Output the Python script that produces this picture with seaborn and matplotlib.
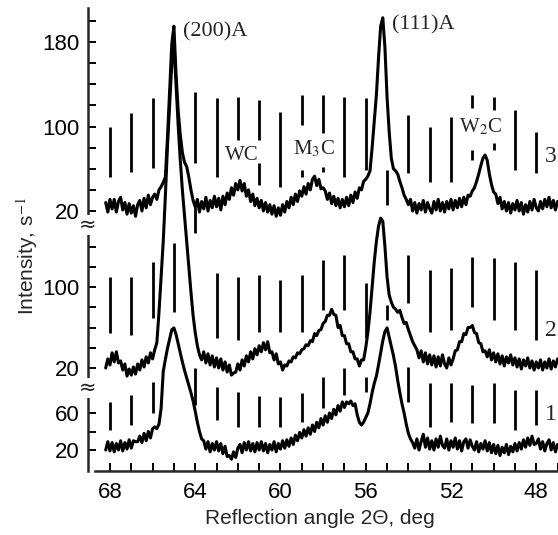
import numpy as np
import pandas as pd
import seaborn as sns
import matplotlib.pyplot as plt
import matplotlib.transforms as mtransforms

# 2Θ grid in degrees, 68.2 down to 47.0 in 0.1 steps
angle = np.arange(682, 469, -1) / 10

# intensities (counts/s), one row per degree
intensity_3 = [28, 19, 31,
               22, 31, 19, 29, 33, 21, 28, 17, 27, 18,
               25, 15, 26, 30, 20, 32, 23, 35, 26, 33,
               36, 31, 40, 43, 47, 52, 90, 135, 178, 195,
               150, 115, 92, 75, 66, 62, 52, 40, 30, 24,
               31, 19, 29, 22, 33, 20, 30, 23, 34, 24,
               32, 21, 34, 26, 37, 31, 42, 35, 46, 40,
               49, 39, 46, 34, 40, 29, 36, 25, 32, 23,
               30, 20, 28, 19, 26, 17, 25, 15, 23, 16,
               26, 19, 29, 23, 33, 26, 36, 29, 39, 34,
               43, 36, 46, 40, 50, 53, 44, 50, 41, 42,
               39, 31, 37, 27, 34, 25, 32, 23, 31, 24,
               33, 25, 35, 28, 38, 32, 42, 40, 48, 50,
               53, 58, 80, 105, 130, 165, 195, 203, 175, 128,
               95, 70, 60, 58, 55, 48, 42, 35, 31, 26,
               31, 20, 28, 18, 27, 21, 30, 19, 28, 22,
               18, 29, 21, 31, 20, 28, 19, 29, 22, 31,
               21, 30, 23, 32, 24, 33, 26, 35, 34, 39,
               42, 48, 55, 63, 70, 73, 68, 55, 45, 38,
               36, 27, 33, 22, 29, 20, 28, 18, 27, 21,
               30, 20, 28, 17, 26, 19, 29, 21, 31, 23,
               20, 29, 22, 31, 24, 33, 23, 30, 21, 29]

intensity_2 = [20, 29, 23,
               35, 26, 36, 25, 27, 18, 24, 12, 19, 13,
               21, 14, 24, 18, 28, 21, 31, 25, 35, 29,
               38, 45, 75, 110, 145, 190, 240, 280, 320, 340,
               300, 260, 225, 195, 170, 145, 120, 95, 72, 55,
               42, 33, 28, 36, 25, 34, 23, 32, 21, 30,
               20, 29, 18, 26, 16, 23, 13, 15, 16, 24,
               18, 28, 22, 32, 26, 36, 29, 39, 33, 42,
               36, 45, 38, 46, 35, 36, 28, 34, 24, 26,
               18, 23, 22, 27, 26, 31, 30, 35, 34, 38,
               39, 43, 42, 47, 46, 54, 52, 57, 58, 64,
               66, 72, 72, 78, 73, 72, 60, 62, 52, 52,
               44, 44, 36, 36, 29, 29, 22, 28, 28, 40,
               55, 75, 100, 125, 145, 160, 168, 165, 140, 110,
               92, 85, 80, 78, 75, 77, 70, 64, 65, 58,
               52, 46, 42, 38, 30, 37, 26, 35, 24, 33,
               23, 32, 21, 31, 22, 33, 24, 20, 30, 23,
               29, 37, 38, 46, 46, 54, 53, 60, 60, 62,
               55, 54, 45, 44, 36, 37, 31, 38, 28, 35,
               26, 34, 24, 32, 22, 31, 25, 33, 23, 30,
               21, 29, 19, 28, 22, 30, 20, 27, 18, 26,
               20, 28, 18, 26, 20, 29, 19, 27, 21, 29]

intensity_1 = [20, 29, 19,
               28, 18, 27, 20, 30, 19, 28, 21, 31, 22,
               30, 29, 29, 35, 28, 38, 30, 40, 33, 43,
               45, 43, 48, 65, 105, 118, 130, 140, 150, 152,
               145, 135, 125, 115, 106, 98, 90, 82, 73, 62,
               50, 40, 32, 30, 21, 29, 18, 27, 20, 29,
               19, 27, 16, 24, 13, 14, 10, 18, 12, 22,
               26, 17, 28, 20, 29, 19, 27, 18, 28, 20,
               29, 19, 27, 17, 26, 20, 29, 18, 27, 21,
               30, 22, 31, 24, 33, 26, 36, 30, 39, 33,
               42, 35, 44, 37, 47, 40, 50, 44, 54, 47,
               57, 50, 60, 54, 64, 58, 68, 62, 72, 66,
               72, 70, 73, 68, 70, 58, 50, 47, 50, 55,
               60, 70, 82, 92, 100, 112, 125, 138, 148, 152,
               142, 132, 122, 110, 95, 82, 70, 60, 48, 38,
               32, 28, 22, 32, 20, 29, 37, 23, 33, 21,
               30, 20, 32, 23, 35, 25, 22, 32, 20, 30,
               23, 33, 21, 30, 19, 29, 32, 22, 31, 24,
               20, 29, 18, 27, 21, 30, 19, 28, 17, 26,
               16, 25, 14, 23, 17, 26, 15, 24, 18, 27,
               19, 28, 21, 31, 23, 33, 25, 35, 26, 27,
               32, 21, 29, 19, 27, 31, 20, 28, 18, 26]

# reference line markers: (angle, low, high) in each pattern's intensity units
sticks_3 = [(68, 52, 100), (67, 57, 113), (66, 61, 127), (64, 65, 133), (63, 52, 127),
            (62, 87, 128), (61, 87, 125), (61, 45, 65), (60, 43, 114), (59, 101, 130),
            (59, 52, 59), (58, 94, 130), (58, 57, 62), (57, 52, 128), (56, 59, 127),
            (55, 26, 59), (54, 56, 111), (53, 47, 100), (52, 47, 109), (51, 118, 130),
            (51, 68, 78), (50, 116, 128), (50, 78, 84), (49, 59, 116), (48, 56, 95)]
sticks_2 = [(68, 55, 110), (67, 53, 110), (66, 69, 125), (65, 75, 143), (64, 153, 184),
            (63, 50, 114), (62, 48, 110), (61, 56, 112), (60, 56, 107), (59, 56, 112),
            (58, 77, 127), (57, 77, 132), (56, 50, 104), (55, 67, 82), (54, 84, 132),
            (53, 56, 117), (52, 58, 119), (51, 80, 130), (50, 67, 129), (49, 58, 125),
            (48, 48, 117)]
sticks_1 = [(68, 42, 72), (67, 47, 79), (66, 60, 94), (64, 69, 109), (63, 52, 88),
            (62, 45, 83), (61, 45, 78), (60, 45, 77), (59, 50, 82), (58, 65, 99),
            (57, 79, 109), (56, 83, 99), (54, 72, 110), (53, 45, 92), (52, 50, 92),
            (51, 49, 90), (50, 49, 92), (49, 42, 85), (48, 47, 85)]

yticks_1 = [20, 40, 60, 80]
yticks_2 = [20, 40, 60, 80, 100, 120, 140]
yticks_3 = [20, 40, 60, 80, 100, 120, 140, 160, 180, 200]
ylabels_1 = [20, 60]
ylabels_2 = [20, 100]
ylabels_3 = [20, 100, 180]

xticks = list(range(47, 69))
xlabels = [68, 64, 60, 56, 52, 48]

# where each pattern sits on the broken axis: base + (I - 20) * scale
placement = {'1': (21, 0.925), '2': (103, 1.0125), '3': (260, 1.056)}


def place(name, values):
    base, k = placement[name]
    return base + (np.asarray(values, dtype=float) - 20) * k


sns.set_style('ticks')
plt.rcParams['font.family'] = ['Liberation Sans', 'DejaVu Sans']
plt.rcParams['mathtext.fontset'] = 'stix'

frames = []
for name, vals in [('1', intensity_1), ('2', intensity_2), ('3', intensity_3)]:
    frames.append(pd.DataFrame({'angle': angle, 'y': place(name, vals), 'sample': name}))
df = pd.concat(frames, ignore_index=True)

fig = plt.figure(figsize=(5.58, 5.35), dpi=100)
ax = fig.add_axes([88 / 558, 64 / 535, 470 / 558, 463 / 535])

sns.lineplot(data=df, x='angle', y='y', hue='sample', palette=['black'] * 3,
             estimator=None, legend=False, lw=2.2, ax=ax)

for name, sticks in [('1', sticks_1), ('2', sticks_2), ('3', sticks_3)]:
    pos = [s[0] for s in sticks]
    lo = place(name, [s[1] for s in sticks])
    hi = place(name, [s[2] for s in sticks])
    ax.vlines(pos, lo, hi, color='black', lw=2.0)

# y ticks for the three stacked scales
ypos, ylab = [], []
for name, ticks, labelled in [('1', yticks_1, ylabels_1), ('2', yticks_2, ylabels_2),
                              ('3', yticks_3, ylabels_3)]:
    ypos += list(place(name, ticks))
    ylab += [str(t) if t in labelled else '' for t in ticks]
ax.set_yticks(ypos)
ax.set_yticklabels(ylab)
ax.set_xticks(xticks)
ax.set_xticklabels([str(t) if t in xlabels else '' for t in xticks])

ax.set_xlim(69.03, 46.98)
ax.set_ylim(0, 463)
ax.spines[['top', 'right']].set_visible(False)
for side in ['left', 'bottom']:
    ax.spines[side].set_linewidth(1.8)
ax.spines['bottom'].set_bounds(68.7, 46.98)
ax.tick_params(direction='in', length=6, width=1.4, labelsize=16, colors='black')
ax.tick_params(axis='y', pad=6)
ax.tick_params(axis='x', pad=8)

ax.set_xlabel('Reflection angle 2Θ, deg', fontsize=15)
ax.set_ylabel('Intensity, s$^{-1}$', fontsize=15)
ax.xaxis.set_label_coords(0.494, -0.082)
ax.yaxis.set_label_coords(-0.102, 0.464)

# axis breaks between the patterns
trans = mtransforms.blended_transform_factory(ax.transAxes, ax.transData)
for yb in [83, 246]:
    ax.text(0, yb, '≈', transform=trans, ha='center', va='center', fontsize=15,
            family=['DejaVu Sans'], clip_on=False, zorder=5,
            bbox=dict(facecolor='white', edgecolor='none', pad=0))

serif = ['Liberation Serif', 'DejaVu Serif']
ax.text(64.58, 439, '(200)A', family=serif, fontsize=16, ha='left', va='center')
ax.text(54.79, 446, '(111)A', family=serif, fontsize=16, ha='left', va='center')
ax.text(61.82, 316, 'WC', family=serif, fontsize=15, ha='center', va='center')
ax.text(58.44, 322, 'M$_3$C', family=serif, fontsize=15, ha='center', va='center')
ax.text(50.62, 344, 'W$_2$C', family=serif, fontsize=15, ha='center', va='center')
ax.text(47.03, 314, '3', family=serif, fontsize=17, ha='right', va='center')
ax.text(47.03, 140, '2', family=serif, fontsize=17, ha='right', va='center')
ax.text(47.03, 57, '1', family=serif, fontsize=17, ha='right', va='center')

fig.savefig('out.png', dpi=100)
